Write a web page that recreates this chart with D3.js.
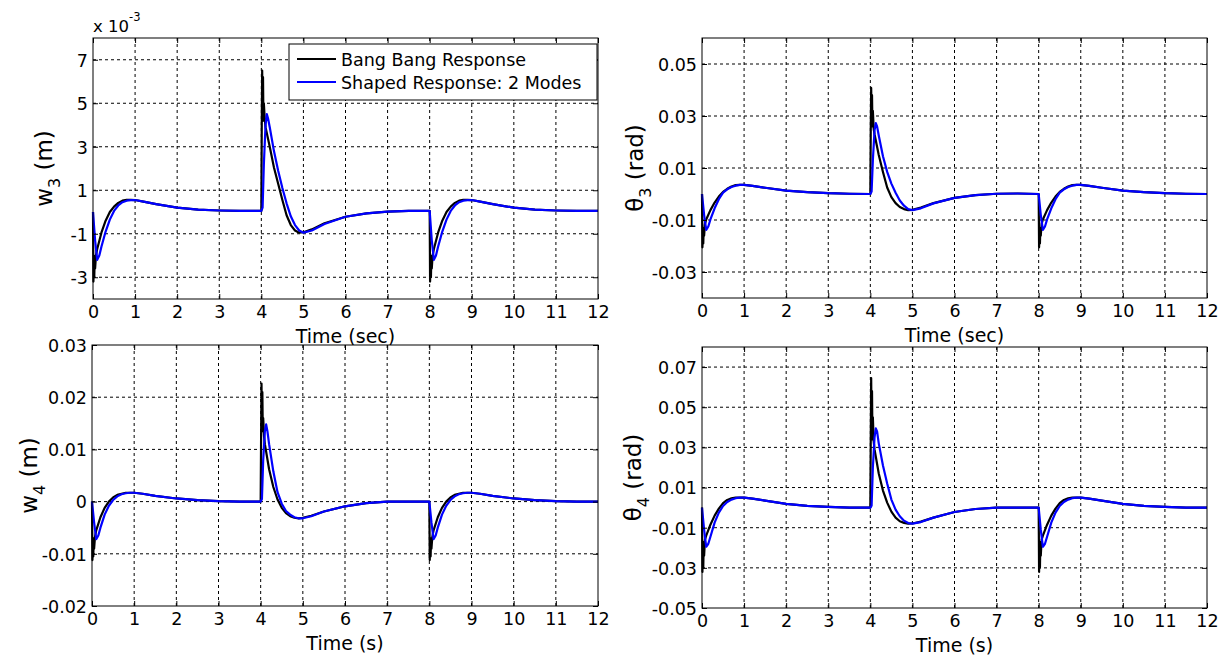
<!DOCTYPE html>
<html>
<head>
<meta charset="utf-8">
<title>Bang bang vs shaped response</title>
<script src="https://cdn.jsdelivr.net/npm/d3@7"></script>
<style>
  body { margin: 0; background: #fff; }
  svg text { font-family: "DejaVu Sans", sans-serif; fill: #000; }
  .grid line { stroke: #000; stroke-width: 1; stroke-dasharray: 3,3; }
  .trace { fill: none; stroke-width: 2.2; stroke-linejoin: round; }
</style>
</head>
<body>
<svg id="chart" width="1223" height="658"></svg>
<script>
// time samples (s)
var tBlack = [0,0.01,0.02,0.03,0.04,0.05,0.07,0.1,0.2,0.3,0.4,0.5,0.6,0.7,0.8,0.9,1.0,1.2,1.5,2.0,2.5,3.0,3.5,
  4.0,4.01,4.02,4.03,4.04,4.05,4.06,4.08,4.1,4.2,4.3,4.4,4.5,4.6,4.7,4.8,4.9,5.0,5.2,5.5,6.0,6.5,7.0,7.5,
  8.0,8.01,8.02,8.03,8.04,8.05,8.07,8.1,8.2,8.3,8.4,8.5,8.6,8.7,8.8,8.9,9.0,9.2,9.5,10.0,10.5,11.0,11.5,12.0];
var tBlue = [0,0.05,0.1,0.15,0.2,0.3,0.4,0.5,0.6,0.7,0.8,0.9,1.0,1.2,1.5,2.0,2.5,3.0,3.5,
  4.0,4.03,4.06,4.1,4.13,4.16,4.2,4.3,4.4,4.5,4.6,4.7,4.8,4.9,5.0,5.2,5.5,6.0,6.5,7.0,7.5,
  8.0,8.05,8.1,8.15,8.2,8.3,8.4,8.5,8.6,8.7,8.8,8.9,9.0,9.2,9.5,10.0,10.5,11.0,11.5,12.0];

// w3 (x 10^-3 m)
var w3Black = [0,-3.2,-2.0,-3.0,-2.1,-2.6,-2.0,-1.7,-0.95,-0.4,0.0,0.25,0.42,0.52,0.56,0.56,0.55,0.48,0.36,0.2,0.11,0.07,0.05,
  0.05,4.0,6.5,4.5,6.2,4.2,5.0,4.3,3.9,3.0,2.05,1.3,0.55,-0.15,-0.6,-0.85,-0.95,-0.93,-0.8,-0.52,-0.22,-0.06,0.02,0.05,
  0.05,-3.2,-2.0,-3.0,-2.1,-2.6,-2.0,-1.7,-0.95,-0.4,0.0,0.25,0.42,0.52,0.56,0.56,0.55,0.48,0.36,0.2,0.11,0.07,0.05,0.05];
var w3Blue = [0,-1.3,-2.2,-2.0,-1.6,-0.9,-0.35,0.05,0.3,0.45,0.52,0.55,0.55,0.48,0.36,0.2,0.11,0.07,0.05,
  0.05,0.2,2.2,4.0,4.5,4.3,3.9,2.8,1.9,1.1,0.4,-0.2,-0.6,-0.85,-0.95,-0.85,-0.55,-0.22,-0.06,0.02,0.05,
  0.05,-1.3,-2.2,-2.0,-1.6,-0.9,-0.35,0.05,0.3,0.45,0.52,0.55,0.55,0.48,0.36,0.2,0.11,0.07,0.05,0.05];

// theta3 (rad)
var th3Black = [0,-0.0205,-0.013,-0.019,-0.013,-0.016,-0.0115,-0.0098,-0.0062,-0.0033,-0.001,0.0008,0.002,0.0029,0.0034,0.0035,0.0035,0.0031,0.0024,0.0013,0.0007,0.0003,0.0001,
  0,0.025,0.0408,0.028,0.038,0.026,0.032,0.025,0.023,0.015,0.0085,0.0025,-0.0012,-0.0035,-0.005,-0.0058,-0.0062,-0.0061,-0.0052,-0.0035,-0.0015,-0.0004,0.0001,0.0002,
  0,-0.0205,-0.013,-0.019,-0.013,-0.016,-0.0115,-0.0098,-0.0062,-0.0033,-0.001,0.0008,0.002,0.0029,0.0034,0.0035,0.0035,0.0031,0.0024,0.0013,0.0007,0.0003,0.0001,0];
var th3Blue = [0,-0.008,-0.0138,-0.0125,-0.0098,-0.0055,-0.002,0.0005,0.0018,0.0027,0.0032,0.0035,0.0035,0.0031,0.0024,0.0013,0.0007,0.0003,0.0001,
  0,0.001,0.013,0.0245,0.0273,0.026,0.0225,0.0145,0.0085,0.004,0.0005,-0.0025,-0.0045,-0.0058,-0.0062,-0.0055,-0.0036,-0.0015,-0.0004,0.0001,0.0002,
  0,-0.008,-0.0138,-0.0125,-0.0098,-0.0055,-0.002,0.0005,0.0018,0.0027,0.0032,0.0035,0.0035,0.0031,0.0024,0.0013,0.0007,0.0003,0.0001,0];

// w4 (m)
var w4Black = [0,-0.0112,-0.007,-0.0105,-0.0075,-0.009,-0.0068,-0.0055,-0.003,-0.0012,0.0,0.0008,0.0013,0.0015,0.0017,0.0017,0.0017,0.0015,0.0011,0.0006,0.0003,0.0001,0.0,
  0,0.012,0.0226,0.014,0.021,0.0135,0.016,0.0125,0.011,0.0062,0.0028,0.0004,-0.0012,-0.0022,-0.0028,-0.0031,-0.0032,-0.0031,-0.0027,-0.0019,-0.0009,-0.0003,0.0,0.0,
  0,-0.0112,-0.007,-0.0105,-0.0075,-0.009,-0.0068,-0.0055,-0.003,-0.0012,0.0,0.0008,0.0013,0.0015,0.0017,0.0017,0.0017,0.0015,0.0011,0.0006,0.0003,0.0001,0.0,0];
var w4Blue = [0,-0.004,-0.0072,-0.0065,-0.005,-0.0025,-0.0008,0.0003,0.001,0.0014,0.0016,0.0017,0.0017,0.0015,0.0011,0.0006,0.0003,0.0001,0.0,
  0,0.0005,0.008,0.0135,0.0148,0.0135,0.011,0.0058,0.0018,-0.0004,-0.0018,-0.0025,-0.003,-0.0032,-0.0032,-0.0028,-0.0019,-0.0009,-0.0003,0.0,0.0,
  0,-0.004,-0.0072,-0.0065,-0.005,-0.0025,-0.0008,0.0003,0.001,0.0014,0.0016,0.0017,0.0017,0.0015,0.0011,0.0006,0.0003,0.0001,0.0,0];

// theta4 (rad)
var th4Black = [0,-0.032,-0.017,-0.03,-0.018,-0.024,-0.016,-0.014,-0.0085,-0.004,-0.0005,0.0022,0.0038,0.0046,0.005,0.005,0.005,0.0045,0.0035,0.0019,0.0009,0.0004,0.0,
  0,0.035,0.0645,0.038,0.058,0.034,0.045,0.033,0.029,0.017,0.0085,0.0025,-0.002,-0.005,-0.0068,-0.0076,-0.008,-0.0079,-0.007,-0.005,-0.0022,-0.0007,0.0,0.0,
  0,-0.032,-0.017,-0.03,-0.018,-0.024,-0.016,-0.014,-0.0085,-0.004,-0.0005,0.0022,0.0038,0.0046,0.005,0.005,0.005,0.0045,0.0035,0.0019,0.0009,0.0004,0.0,0];
var th4Blue = [0,-0.011,-0.0195,-0.018,-0.0145,-0.0075,-0.0025,0.0008,0.0028,0.004,0.0047,0.005,0.005,0.0045,0.0035,0.0019,0.0009,0.0004,0.0,
  0,0.001,0.02,0.035,0.0395,0.038,0.032,0.021,0.012,0.004,-0.001,-0.0043,-0.0065,-0.0077,-0.008,-0.0072,-0.005,-0.0022,-0.0007,0.0,0.0,
  0,-0.011,-0.0195,-0.018,-0.0145,-0.0075,-0.0025,0.0008,0.0028,0.004,0.0047,0.005,0.005,0.0045,0.0035,0.0019,0.0009,0.0004,0.0,0];

// ticks
var xTicks = [0,1,2,3,4,5,6,7,8,9,10,11,12];
var w3Ticks = [-3,-1,1,3,5,7];
var th3Ticks = [-0.03,-0.01,0.01,0.03,0.05];
var w4Ticks = [-0.02,-0.01,0,0.01,0.02,0.03];
var th4Ticks = [-0.05,-0.03,-0.01,0.01,0.03,0.05,0.07];

var seriesNames = ["Bang Bang Response", "Shaped Response: 2 Modes"];
var seriesColors = ["#000000", "#0000ff"];

function fmt2(d) { return d === 0 ? "0" : d.toFixed(2); }
function fmt0(d) { return String(d); }

var panels = [
  {x0: 93, x1: 598, y0: 38, y1: 299, dom: [-4, 8], ticks: w3Ticks, fmt: fmt0,
   black: w3Black, blue: w3Blue, xlab: "Time (sec)", ylab: ["w", "3", " (m)"], ylx: 52, legend: true, expo: true},
  {x0: 702, x1: 1207, y0: 38, y1: 298, dom: [-0.04, 0.06], ticks: th3Ticks, fmt: fmt2,
   black: th3Black, blue: th3Blue, xlab: "Time (sec)", ylab: ["\u03b8", "3", " (rad)"], ylx: 643},
  {x0: 92, x1: 598, y0: 345, y1: 606, dom: [-0.02, 0.03], ticks: w4Ticks, fmt: fmt2,
   black: w4Black, blue: w4Blue, xlab: "Time (s)", ylab: ["w", "4", " (m)"], ylx: 37},
  {x0: 702, x1: 1207, y0: 347, y1: 608, dom: [-0.05, 0.08], ticks: th4Ticks, fmt: fmt2,
   black: th4Black, blue: th4Blue, xlab: "Time (s)", ylab: ["\u03b8", "4", " (rad)"], ylx: 641}
];

var svg = d3.select("#chart");

panels.forEach(function(p) {
  var x = d3.scaleLinear().domain([0, 12]).range([p.x0, p.x1]);
  var y = d3.scaleLinear().domain(p.dom).range([p.y1, p.y0]);
  var g = svg.append("g");

  g.append("rect")
    .attr("x", p.x0).attr("y", p.y0)
    .attr("width", p.x1 - p.x0).attr("height", p.y1 - p.y0)
    .attr("fill", "#fff");

  // dotted grid
  var grid = g.append("g").attr("class", "grid");
  grid.selectAll(".gx")
    .data(xTicks.filter(function(d) { return d > 0 && d < 12; }))
    .enter().append("line")
    .attr("x1", function(d) { return x(d); }).attr("x2", function(d) { return x(d); })
    .attr("y1", p.y0).attr("y2", p.y1);
  grid.selectAll(".gy")
    .data(p.ticks.filter(function(d) { return y(d) > p.y0 + 1 && y(d) < p.y1 - 1; }))
    .enter().append("line")
    .attr("x1", p.x0).attr("x2", p.x1)
    .attr("y1", function(d) { return y(d); }).attr("y2", function(d) { return y(d); });

  // traces
  var line = d3.line()
    .x(function(d) { return x(d[0]); })
    .y(function(d) { return y(d[1]); });
  var blackPts = tBlack.map(function(t, i) { return [t, p.black[i]]; });
  var bluePts = tBlue.map(function(t, i) { return [t, p.blue[i]]; });
  g.append("path").attr("class", "trace").attr("stroke", seriesColors[0]).attr("d", line(blackPts));
  g.append("path").attr("class", "trace").attr("stroke", seriesColors[1]).attr("d", line(bluePts));

  // axes with inward ticks
  var ax = g.append("g").attr("transform", "translate(0," + p.y1 + ")")
    .call(d3.axisBottom(x).tickValues(xTicks).tickSizeInner(-5).tickSizeOuter(0).tickPadding(7).tickFormat(fmt0));
  var axT = g.append("g").attr("transform", "translate(0," + p.y0 + ")")
    .call(d3.axisTop(x).tickValues(xTicks).tickSizeInner(-5).tickSizeOuter(0).tickFormat(""));
  var ay = g.append("g").attr("transform", "translate(" + p.x0 + ",0)")
    .call(d3.axisLeft(y).tickValues(p.ticks).tickSizeInner(-5).tickSizeOuter(0).tickPadding(5).tickFormat(p.fmt));
  var ayR = g.append("g").attr("transform", "translate(" + p.x1 + ",0)")
    .call(d3.axisRight(y).tickValues(p.ticks).tickSizeInner(-5).tickSizeOuter(0).tickFormat(""));
  [ax, axT, ay, ayR].forEach(function(a) {
    a.select(".domain").remove();
    a.attr("font-family", null).attr("font-size", null);
    a.selectAll("line").attr("stroke", "#000");
    a.selectAll("text").style("font-size", "17.5px").attr("fill", "#000");
  });
  ay.selectAll("text").attr("dy", "0.36em");

  // box
  g.append("rect")
    .attr("x", p.x0).attr("y", p.y0)
    .attr("width", p.x1 - p.x0).attr("height", p.y1 - p.y0)
    .attr("fill", "none").attr("stroke", "#000").attr("stroke-width", 1);

  // axis labels
  g.append("text")
    .attr("x", (p.x0 + p.x1) / 2).attr("y", p.y1 + 44)
    .attr("text-anchor", "middle")
    .style("font-size", "19px")
    .text(p.xlab);

  var yl = g.append("text")
    .attr("text-anchor", "middle")
    .attr("transform", "translate(" + p.ylx + "," + ((p.y0 + p.y1) / 2) + ") rotate(-90)")
    .style("font-size", "23px");
  yl.append("tspan").text(p.ylab[0]);
  yl.append("tspan").attr("dy", 8).style("font-size", "16px").text(p.ylab[1]);
  yl.append("tspan").attr("dy", -8).text(p.ylab[2]);

  if (p.expo) {
    var ex = g.append("text").attr("x", p.x0).attr("y", p.y0 - 6).style("font-size", "16.5px");
    ex.append("tspan").text("x 10");
    ex.append("tspan").attr("dy", -11).style("font-size", "11.5px").text("-3");
  }

  if (p.legend) {
    var lg = g.append("g");
    lg.append("rect")
      .attr("x", 289).attr("y", 44).attr("width", 308).attr("height", 56)
      .attr("fill", "#fff").attr("stroke", "#000").attr("stroke-width", 1);
    seriesNames.forEach(function(name, i) {
      var ly = 59 + i * 23;
      lg.append("line")
        .attr("x1", 297).attr("x2", 336).attr("y1", ly).attr("y2", ly)
        .attr("stroke", seriesColors[i]).attr("stroke-width", 2.2);
      lg.append("text")
        .attr("x", 341).attr("y", ly + 7)
        .style("font-size", "17.5px")
        .text(name);
    });
  }
});
</script>
</body>
</html>
